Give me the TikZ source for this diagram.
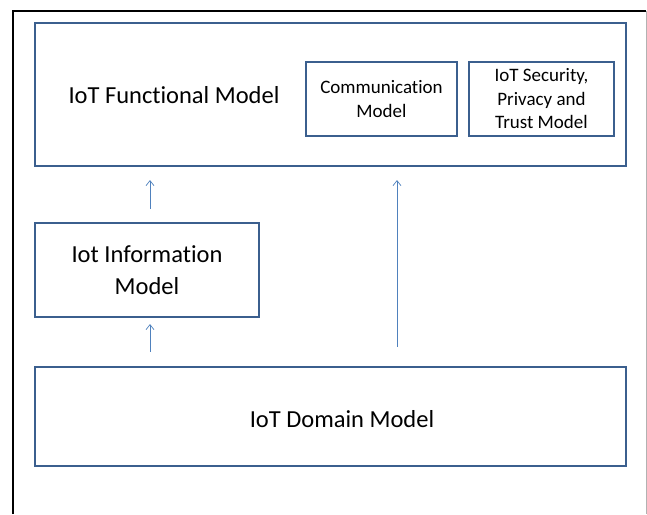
\documentclass[tikz,border=0pt]{standalone}
\usepackage{fontspec}
\setmainfont[Ligatures=NoCommon]{Carlito}
\usepackage{tikz}
\usetikzlibrary{arrows.meta}
\usetikzlibrary{calc}

\definecolor{boxblue}{HTML}{3B5F8E}
\definecolor{arrowblue}{HTML}{4F81BD}

\tikzset{
    modelbox/.style={draw=boxblue, line width=2.2pt, fill=white, inner sep=0pt, align=center},
    bigtext/.style={font=\fontsize{24.5}{32}\selectfont, align=center, inner sep=0pt},
    smalltext/.style={font=\fontsize{19}{23.5}\selectfont, align=center},
    flow/.style={draw=arrowblue, line width=0.8pt, -{Straight Barb[length=5pt, width=8pt, line width=0.7pt]}}
}

\begin{document}
\begin{tikzpicture}[x=1pt, y=-1pt]

    \useasboundingbox (0,0) rectangle (647,514);

    % =========================================================================
    % SLIDE FRAME
    % =========================================================================
    \draw[line width=1.5pt, black] (13, 514) -- (13, 11) -- (646, 11);
    \draw[line width=1pt, gray!60] (646, 11) -- (646, 514);

    % =========================================================================
    % FUNCTIONAL MODEL (top)
    % =========================================================================
    \node[modelbox, minimum width=591pt, minimum height=143pt] (func) at (330.5, 94.5) {};
    \node[bigtext] (funclabel) at (174, 95) {IoT Functional Model};
    \node[modelbox, smalltext, minimum width=151pt, minimum height=74pt] (comm) at (381.5, 99)
        {Communication\\Model};
    \node[modelbox, smalltext, minimum width=145pt, minimum height=74pt] (sec) at (541.5, 99)
        {IoT Security,\\Privacy and\\Trust Model};

    % =========================================================================
    % INFORMATION MODEL (middle)
    % =========================================================================
    \node[modelbox, bigtext, minimum width=224pt, minimum height=94pt] (info) at (147, 270)
        {Iot Information\\Model};

    % =========================================================================
    % DOMAIN MODEL (bottom)
    % =========================================================================
    \node[modelbox, minimum width=591pt, minimum height=99pt] (domain) at (330.5, 416.5) {};
    \node[bigtext] (domainlabel) at (342, 419) {IoT Domain Model};

    % --- Arrows ---
    \coordinate (leftx) at (150, 0);
    \coordinate (rightx) at (397, 0);
    \draw[flow, shorten <=13pt, shorten >=13pt] (info.north -| leftx) -- (func.south -| leftx);
    \draw[flow, shorten <=14pt, shorten >=6pt] (domain.north -| leftx) -- (info.south -| leftx);
    \draw[flow, shorten <=19pt, shorten >=13pt] (domain.north -| rightx) -- (func.south -| rightx);

\end{tikzpicture}
\end{document}
